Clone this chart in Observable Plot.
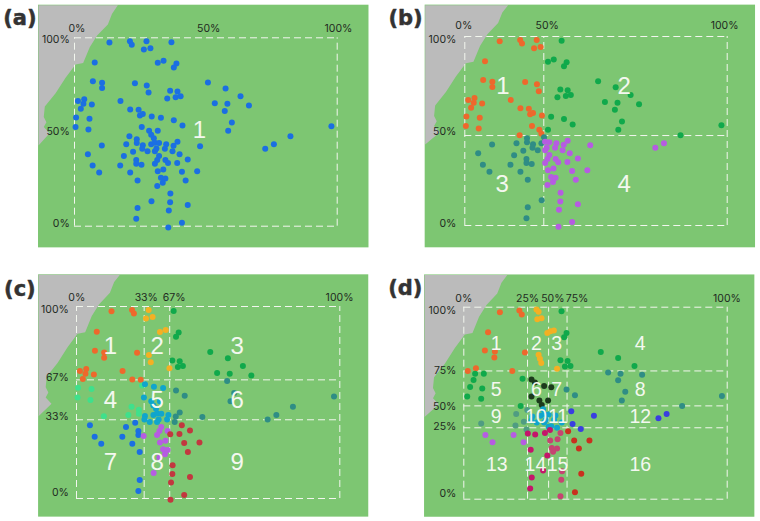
<!DOCTYPE html>
<html>
<head>
<meta charset="utf-8">
<script src="https://cdn.jsdelivr.net/npm/d3@7"></script>
<script src="https://cdn.jsdelivr.net/npm/@observablehq/plot@0.6"></script>
<style>
html,body{margin:0;padding:0;background:#fff}
#page{position:relative;width:760px;height:521px;overflow:hidden}
#page svg{position:absolute;overflow:visible}
</style>
</head>
<body>
<div id="page"></div>
<script>
// Shared survey points (percent of the frame), panels a-c
const pointX = [13.3,21.1,21.8,27.4,28.9,26.4,36.9,7.7,31.7,33.9,38.8,37.8,7.0,10.5,10.5,23.0,27.5,28.2,36.4,39.2,35.3,38.5,40.4,50.8,57.5,63.2,1.3,3.7,3.4,2.4,6.6,17.5,21.2,24.4,24.9,26.0,53.4,58.2,66.4,57.2,0.6,5.7,29.4,32.9,37.8,41.1,59.9,0.4,5.3,25.6,28.4,31.7,58.5,97.8,82.2,75.9,72.6,20.9,29.2,30.2,23.7,23.7,19.7,10.4,39.2,47.8,29.2,30.6,32.2,34.9,37.7,26.0,25.8,27.8,30.6,31.2,34.4,37.3,22.3,40.0,5.1,18.8,32.2,31.5,23.5,34.6,30.6,35.6,39.1,43.1,23.5,25.5,17.4,6.9,9.4,21.2,31.7,33.8,40.9,46.7,24.0,32.9,34.6,33.6,42.3,31.5,36.5,29.3,36.4,43.1,24.0,35.9,23.5,40.9,35.7];
const pointY = [97.5,98.2,96.3,98.2,94.5,93.8,97.7,86.9,86.7,87.8,86.4,84.3,77.0,76.1,73.3,75.9,74.7,71.0,71.9,71.5,67.8,68.5,69.0,76.3,73.1,69.0,66.4,67.4,65.0,62.3,64.6,66.4,62.0,61.8,58.8,59.5,65.3,65.0,64.1,61.2,57.7,57.0,58.2,57.5,56.3,53.5,55.0,52.6,51.3,52.6,50.6,50.6,50.6,53.1,47.8,43.5,41.1,47.8,48.5,46.7,46.2,44.1,43.5,42.8,44.8,42.5,43.5,44.3,44.1,43.5,42.7,43.0,41.1,39.8,39.8,41.2,41.1,39.8,39.5,38.2,38.2,37.2,37.3,35.2,35.2,35.2,33.1,33.5,33.6,35.4,33.1,32.6,32.2,32.2,28.5,28.5,29.2,30.1,28.9,29.2,24.2,25.7,25.3,23.0,24.2,21.4,17.3,13.3,12.7,11.2,9.6,8.3,3.9,1.8,-0.7];

// Panel d, read cluster by cluster as [x%, y%]
const dOrange = [[13.7,97.4],[21.1,98.3],[22.0,96.2],[9.2,87.0],[8.0,77.4],[11.8,76.9],[11.6,73.8],[23.2,76.4],[1.5,66.8],[4.6,68.2],[18.4,66.8]];
const dYellow = [[27.6,98.8],[28.4,97.6],[27.9,93.7],[29.5,94.3],[31.7,86.5],[32.9,87.5],[34.2,87.8],[28.4,75.2],[28.9,73.1],[29.4,71.0],[35.4,67.9]];
const dGreen = [[37.1,97.9],[39.0,86.5],[38.1,84.4],[36.7,72.4],[39.4,72.0],[38.4,69.1],[40.5,69.4],[52.0,76.7],[58.6,73.6],[64.8,69.4],[4.3,65.3],[7.6,65.3],[3.7,62.1],[2.4,58.5],[7.0,57.6],[1.3,53.5],[6.6,52.3],[22.3,62.7],[21.6,48.6]];
const dDark = [[25.7,62.3],[27.0,60.8],[30.5,59.0],[33.2,58.3],[25.7,53.5],[28.7,51.4],[32.0,51.4],[29.6,49.0]];
const dTeal = [[54.8,66.0],[59.5,65.4],[67.7,64.8],[58.6,62.0],[61.3,55.9],[60.0,51.4],[39.0,57.1],[42.2,54.2],[82.9,48.6],[98.0,53.8]];
const dSage = [[19.9,44.4],[6.6,39.4],[19.6,38.4],[22.8,40.4],[24.1,46.5],[23.8,36.3]];
const dCyan = [[30.1,46.9],[29.1,43.4],[30.5,44.4],[32.2,44.1],[34.8,43.6],[26.0,43.1],[25.7,41.0],[27.7,39.9],[30.5,39.9],[31.1,41.3],[34.3,41.3],[37.2,39.9],[32.2,37.7],[33.2,38.0],[35.4,37.2]];
const dBlue = [[40.8,45.8],[41.3,39.2],[44.4,36.6],[49.4,43.4],[73.9,42.2],[77.0,44.4]];
const dPurple = [[8.2,33.5],[10.9,29.7],[18.9,33.5],[22.7,29.7]];
const dCrimson = [[24.3,34.2],[27.1,33.7],[30.8,34.5],[32.7,36.1],[25.4,25.7],[31.7,22.7],[30.1,14.9],[25.8,11.3],[25.2,5.6]];
const dPink = [[36.7,34.5],[32.8,30.6],[35.6,31.2],[33.4,26.7],[35.4,26.4],[33.9,24.7],[37.3,14.6],[37.0,10.1],[36.7,1.6]];
const dRed = [[39.6,35.4],[41.9,30.6],[47.7,30.6],[43.7,26.4],[44.6,13.2],[42.2,3.6]];

// Coastline (grey land) in frame percent
const coastX = [16.5,14.3,12.7,8.6,5.8,3.3,0.4,-3.4,-7.2,-11.3,-11.7,-10.7,-11.7,-9.5];
const coastY = [117.3,112.7,107.1,101.2,95,86.6,85.8,78.8,70.6,63.5,57.9,55.2,52.6,49.4];

const c = {orange:"#ee682c",yellow:"#f4b023",green:"#10a94b",teal:"#2f8d85",mint:"#3fe08c",cyan:"#10a5cc",blue:"#1b6fe2",purple:"#b65ce2",red:"#c2383f",dark:"#1c3a1c",sage:"#4f9c82",indigo:"#3a3ee0",crimson:"#c4156a",pink:"#c64472",scarlet:"#c9301f"};
const land = "#bbbbbb", sea = "#7dc672", ink = "#1f2a1f";

const shared = pointX.map((x,i)=>({x,y:pointY[i]}));
const zoned = (xb,yb,colors)=>shared.map(p=>{
  const col = d3.bisectRight(xb,p.x), row = d3.bisectLeft(yb,p.y);
  return {...p,color:colors[(yb.length-row)*(xb.length+1)+col]};
});
const pairs = (list,color)=>list.map(([x,y])=>({x,y,color}));

const panels = [
 {tag:"(a)",tagAt:[-20.8,110.6],left:0,top:0,h:260,m:[74,43.3,37.3,34.3],bg:[-13.7,112.1,-11.5,117.3],cellSize:24,
  lineX:[],lineY:[],
  xTicks:[[0.9,"0%"],[51.1,"50%"],[100.5,"100%"]],xTickY:105,
  yTicks:[[99.1,"100%"],[50.3,"50%"],[1.6,"0%"]],yTickX:-1.8,
  cells:[[47.6,50.8,"1"]],
  pts:shared.map(p=>({...p,color:c.blue}))},
 {tag:"(b)",tagAt:[-22.6,109.9],left:380,top:0,h:260,m:[84.3,33.3,36,35],bg:[-15.1,110.8,-11.8,116.6],cellSize:24,
  lineX:[30.1],lineY:[47.6],
  xTicks:[[-0.4,"0%"],[31.4,"50%"],[99,"100%"]],xTickY:105.5,
  yTicks:[[98.6,"100%"],[49.7,"50%"],[1.2,"0%"]],yTickX:-3.2,
  cells:[[14.5,73.5,"1"],[60.7,73.5,"2"],[14.2,22,"3"],[60.7,22,"4"]],
  pts:zoned([30.4],[47.6],[c.orange,c.green,c.teal,c.purple])},
 {tag:"(c)",tagAt:[-21.5,109.2],left:0,top:260,h:261,m:[76,40.7,46,23],bg:[-14.4,111,-9.7,116.5],cellSize:24,
  lineX:[25.7,35.4],lineY:[41,61.8],
  xTicks:[[0.1,"0%"],[26.5,"33%"],[37.1,"67%"],[99.9,"100%"]],xTickY:104.5,
  yTicks:[[98.4,"100%"],[62.7,"67%"],[42.7,"33%"],[3.1,"0%"]],yTickX:-2.9,
  cells:[[12.9,79.2,"1"],[30.6,79.2,"2"],[61,79.2,"3"],[12.9,51,"4"],[30.6,51,"5"],[61,51,"6"],[12.9,18.9,"7"],[30.6,18.9,"8"],[61,18.9,"9"]],
  pts:zoned([25,35.5],[39.7,61.5],[c.orange,c.yellow,c.green,c.mint,c.cyan,c.teal,c.blue,c.purple,c.red])},
 {tag:"(d)",tagAt:[-22.2,110],left:380,top:260,h:261,m:[83.3,33.3,46.7,22.3],bg:[-14.9,110.5,-9.4,116.8],cellSize:19.5,
  lineX:[24.2,32.2,39.2],lineY:[37.2,48.6,66.8],
  xTicks:[[0,"0%"],[24.2,"25%"],[33.8,"50%"],[43,"75%"],[99.9,"100%"]],xTickY:104.5,
  yTicks:[[98.4,"100%"],[67.2,"75%"],[48.3,"50%"],[37.8,"25%"],[2.8,"0%"]],yTickX:-2.8,
  cells:[[12.3,80.9,"1"],[27.6,80.9,"2"],[35.3,80.9,"3"],[67,80.9,"4"],[12.3,56.9,"5"],[27.6,56.9,"6"],[35.3,56.9,"7"],[67,56.9,"8"],[12.3,42.7,"9"],[27.4,42.7,"10"],[35.8,42.7,"11"],[67,42.7,"12"],[12.5,18.1,"13"],[27.2,18.1,"14"],[35.6,18.1,"15"],[67,18.1,"16"]],
  pts:[...pairs(dOrange,c.orange),...pairs(dYellow,c.yellow),...pairs(dGreen,c.green),...pairs(dDark,c.dark),...pairs(dTeal,c.teal),...pairs(dSage,c.sage),...pairs(dCyan,c.cyan),...pairs(dBlue,c.indigo),...pairs(dPurple,c.purple),...pairs(dCrimson,c.crimson),...pairs(dPink,c.pink),...pairs(dRed,c.scarlet)]}
];

const page = document.getElementById("page");
for (const p of panels) {
  const [x1,x2,y1,y2] = p.bg;
  const land_ = [[x1,y2],...coastX.map((x,i)=>[x,coastY[i]===117.3?y2:coastY[i]]),[x1,42.8]];
  const svg = Plot.plot({
    width:380,height:p.h,
    marginLeft:p.m[0],marginRight:p.m[1],marginTop:p.m[2],marginBottom:p.m[3],
    x:{domain:[0,100],axis:null},y:{domain:[0,100],axis:null},
    color:{type:"identity"},
    style:{background:"transparent",left:p.left+"px",top:p.top+"px"},
    marks:[
      Plot.rect([p.bg],{x1:d=>d[0],x2:d=>d[1],y1:d=>d[2],y2:d=>d[3],fill:sea}),
      Plot.line(land_,{x:d=>d[0],y:d=>d[1],fill:land,stroke:"none"}),
      Plot.ruleX([0,100,...p.lineX],{y1:0,y2:100,stroke:"#f2f6ee",strokeWidth:1,strokeDasharray:"7,4"}),
      Plot.ruleY([0,100,...p.lineY],{x1:0,x2:100,stroke:"#f2f6ee",strokeWidth:1,strokeDasharray:"7,4"}),
      Plot.dot(p.pts,{x:"x",y:"y",fill:"color",r:3,stroke:"none"}),
      Plot.text(p.xTicks,{x:d=>d[0],y:()=>p.xTickY,text:d=>d[1],fill:ink,fontSize:10.5,fontFamily:"Inter"}),
      Plot.text(p.yTicks,{x:()=>p.yTickX,y:d=>d[0],text:d=>d[1],fill:ink,fontSize:10.5,fontFamily:"Inter",textAnchor:"end"}),
      Plot.text(p.cells,{x:d=>d[0],y:d=>d[1],text:d=>d[2],fill:"#f4f8f0",fontSize:p.cellSize,fontFamily:"Liberation Sans"}),
      Plot.text([p.tag],{x:()=>p.tagAt[0],y:()=>p.tagAt[1],text:d=>d,fill:"#333333",stroke:"#333333",strokeWidth:0.5,fontSize:21,fontWeight:"bold",fontFamily:"DejaVu Sans"})
    ]
  });
  page.appendChild(svg);
}
</script>
</body>
</html>
